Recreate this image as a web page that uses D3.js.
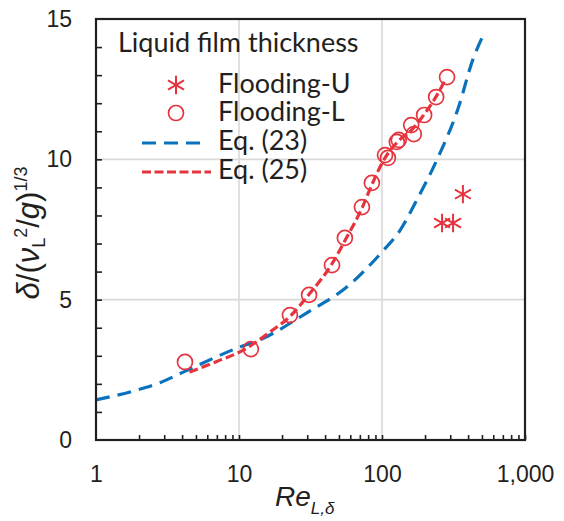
<!DOCTYPE html>
<html>
<head>
<meta charset="utf-8">
<script src="https://cdn.jsdelivr.net/npm/d3@7"></script>
<style>
  body { margin: 0; background: #fff; }
  svg { display: block; }
</style>
</head>
<body>
<div id="chart-area"></div>
<script>
// ---- data ----
const xTickValues = [1, 10, 100, 1000];
const yTickValues = [0, 5, 10, 15];

// Flooding-U (asterisks)
const floodUx = [263, 314, 368];
const floodUy = [7.73, 7.73, 8.76];

// Flooding-L (open circles)
const floodLx = [4.19, 12.1, 22.7, 30.9, 44.7, 55, 72.4, 85, 105, 110, 127, 131, 160, 167, 197, 239, 285];
const floodLy = [2.78, 3.24, 4.45, 5.17, 6.23, 7.2, 8.3, 9.16, 10.15, 10.05, 10.62, 10.69, 11.22, 10.9, 11.58, 12.22, 12.93];

// Eq. (23) - blue dashed
const eq23x = [1, 2, 2.8, 4, 10, 14, 30, 57, 100, 133, 176, 243, 340, 433, 508];
const eq23y = [1.43, 1.8, 2.04, 2.4, 3.3, 3.57, 4.54, 5.46, 6.7, 7.45, 8.57, 10.0, 11.8, 13.57, 14.4];

// Eq. (25) - red dashed
const eq25x = [4.5, 7, 10.7, 16.5, 22.7, 31, 45, 55, 73, 85, 105, 130, 165, 197, 240, 275];
const eq25y = [2.42, 2.8, 3.2, 3.85, 4.4, 5.2, 6.3, 7.1, 8.3, 9.1, 10.05, 10.65, 11.1, 11.6, 12.25, 12.8];

// ---- dimensions ----
const W = 564, H = 521;
const margin = { top: 19, right: 39, bottom: 81, left: 96 };
const width = W - margin.left - margin.right,
      height = H - margin.top - margin.bottom;

const RED = "#e6343f", BLUE = "#0a72bd", INK = "#231f20", GRID = "#d9d9d9";

const svg = d3.select("#chart-area").append("svg")
  .attr("width", W).attr("height", H);

const g = svg.append("g")
  .attr("transform", "translate(" + margin.left + "," + margin.top + ")");

const x = d3.scaleLog().domain([1, 1000]).range([0, width]);
const y = d3.scaleLinear().domain([0, 15]).range([height, 0]);

// gridlines
g.selectAll(".gx").data([10, 100]).enter().append("line")
  .attr("x1", d => x(d)).attr("x2", d => x(d))
  .attr("y1", 0).attr("y2", height)
  .attr("stroke", GRID).attr("stroke-width", 1.6);
g.selectAll(".gy").data([5, 10]).enter().append("line")
  .attr("x1", 0).attr("x2", width)
  .attr("y1", d => y(d)).attr("y2", d => y(d))
  .attr("stroke", GRID).attr("stroke-width", 1.6);

// minor ticks (inward)
const xMinor = [];
[1, 10, 100].forEach(dec => { for (let k = 2; k <= 10; k++) xMinor.push(dec * k); });
const xTickAxis = d3.axisBottom(x).tickValues(xMinor).tickSize(-5).tickFormat("");
g.append("g").attr("transform", "translate(0," + height + ")").call(xTickAxis)
  .call(a => a.select(".domain").remove())
  .call(a => a.selectAll("line").attr("stroke", INK).attr("stroke-width", 1.6));

const yTickAxis = d3.axisLeft(y).tickValues(d3.range(1, 15)).tickSize(-6).tickFormat("");
g.append("g").call(yTickAxis)
  .call(a => a.select(".domain").remove())
  .call(a => a.selectAll("line").attr("stroke", INK).attr("stroke-width", 1.6));

// tick labels
const xLab = d3.axisBottom(x).tickValues(xTickValues).tickSize(0).tickPadding(26)
  .tickFormat(d3.format(","));
g.append("g").attr("transform", "translate(0," + height + ")").call(xLab)
  .call(a => a.select(".domain").remove())
  .call(a => a.selectAll("text").attr("font-family", "Liberation Sans, Arial, sans-serif")
    .attr("font-size", 23).attr("fill", INK));

const yLab = d3.axisLeft(y).tickValues(yTickValues).tickSize(0).tickPadding(24);
g.append("g").call(yLab)
  .call(a => a.select(".domain").remove())
  .call(a => a.selectAll("text").attr("font-family", "Liberation Sans, Arial, sans-serif")
    .attr("font-size", 23).attr("fill", INK));

// curves
const line = d3.line()
  .x(d => x(d[0])).y(d => y(d[1]))
  .curve(d3.curveMonotoneX);

g.append("path")
  .datum(eq23x.map((v, i) => [v, eq23y[i]]))
  .attr("d", line).attr("fill", "none")
  .attr("stroke", BLUE).attr("stroke-width", 3.2)
  .attr("stroke-dasharray", "14,8");

g.append("path")
  .datum(eq25x.map((v, i) => [v, eq25y[i]]))
  .attr("d", line).attr("fill", "none")
  .attr("stroke", RED).attr("stroke-width", 3.2)
  .attr("stroke-dasharray", "9,4");

// markers
g.selectAll(".fl").data(floodLx.map((v, i) => [v, floodLy[i]])).enter()
  .append("circle")
  .attr("cx", d => x(d[0])).attr("cy", d => y(d[1])).attr("r", 7.5)
  .attr("fill", "none").attr("stroke", RED).attr("stroke-width", 1.7);

const star = d3.symbol().type(d3.symbolAsterisk).size(240);
g.selectAll(".fu").data(floodUx.map((v, i) => [v, floodUy[i]])).enter()
  .append("path")
  .attr("d", star)
  .attr("transform", d => "translate(" + x(d[0]) + "," + y(d[1]) + ")")
  .attr("fill", "none").attr("stroke", RED).attr("stroke-width", 2);

// frame
g.append("rect")
  .attr("x", 0).attr("y", 0).attr("width", width).attr("height", height)
  .attr("fill", "none").attr("stroke", INK).attr("stroke-width", 2.2);

// legend
const LF = "Lato, 'Open Sans', sans-serif";
svg.append("text").attr("x", 118).attr("y", 52)
  .attr("font-family", LF).attr("font-size", 27).attr("fill", INK)
  .text("Liquid film thickness");

svg.append("path").attr("d", star)
  .attr("transform", "translate(176,85)")
  .attr("fill", "none").attr("stroke", RED).attr("stroke-width", 2);
svg.append("circle").attr("cx", 176).attr("cy", 113).attr("r", 7.5)
  .attr("fill", "none").attr("stroke", RED).attr("stroke-width", 1.7);
svg.append("line").attr("x1", 142).attr("x2", 200).attr("y1", 143).attr("y2", 143)
  .attr("stroke", BLUE).attr("stroke-width", 3.2).attr("stroke-dasharray", "14,8");
svg.append("line").attr("x1", 142).attr("x2", 211).attr("y1", 172).attr("y2", 172)
  .attr("stroke", RED).attr("stroke-width", 3.2).attr("stroke-dasharray", "9,3.5");

const legendNames = ["Flooding-U", "Flooding-L", "Eq. (23)", "Eq. (25)"];
const legendY = [93, 121, 150, 179];
svg.selectAll(".lt").data(legendNames).enter().append("text")
  .attr("x", 218).attr("y", (d, i) => legendY[i])
  .attr("font-family", LF).attr("font-size", 27).attr("fill", INK)
  .text(d => d);

// x-label
const xl = svg.append("text").attr("x", 275).attr("y", 506)
  .attr("font-family", "Liberation Sans, Arial, sans-serif")
  .attr("font-style", "italic").attr("fill", INK).attr("font-size", 28);
xl.append("tspan").text("Re");
xl.append("tspan").attr("font-size", 17).attr("dy", 8).text("L,δ");

// y-label
const yl = svg.append("text")
  .attr("transform", "translate(39,233) rotate(-90)")
  .attr("text-anchor", "middle")
  .attr("font-family", "Liberation Sans, Arial, sans-serif")
  .attr("font-size", 31).attr("fill", INK);
yl.append("tspan").attr("font-style", "italic").text("δ");
yl.append("tspan").text("/(");
yl.append("tspan").attr("font-style", "italic").text("ν");
yl.append("tspan").attr("font-size", 18).attr("dy", 6).text("L");
yl.append("tspan").attr("font-size", 18).attr("dy", -18).text("2");
yl.append("tspan").attr("dy", 12).text("/");
yl.append("tspan").attr("font-style", "italic").text("g");
yl.append("tspan").text(")");
yl.append("tspan").attr("font-size", 18).attr("dy", -12).text("1/3");
</script>
</body>
</html>
